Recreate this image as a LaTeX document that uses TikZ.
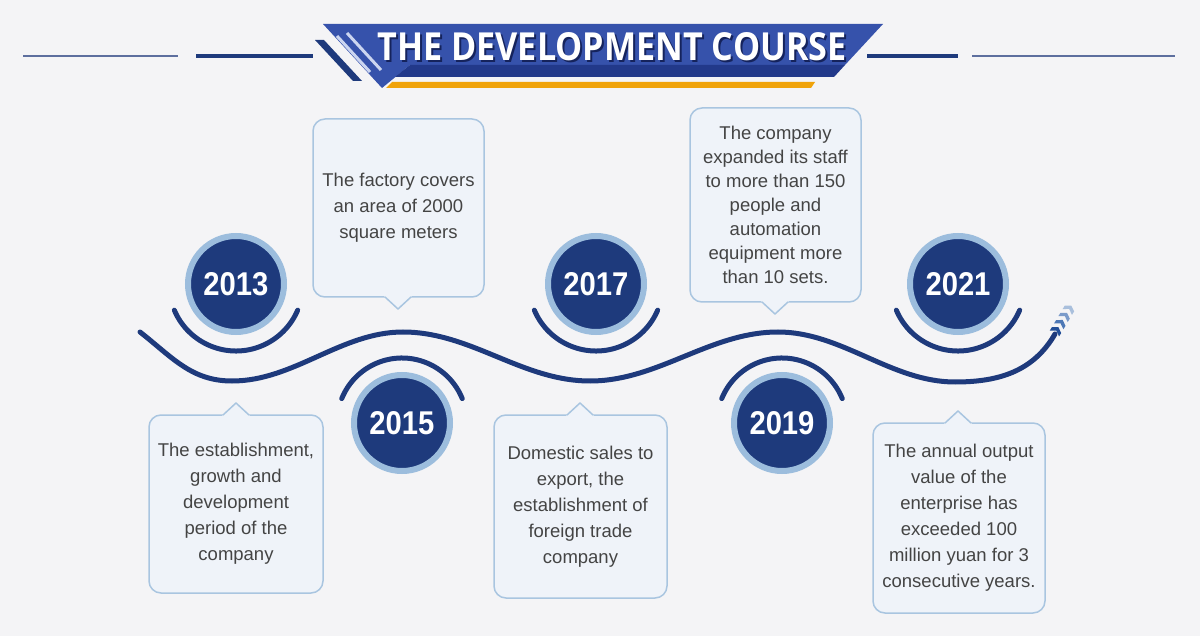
\documentclass[tikz,border=0pt]{standalone}
\usepackage{fontspec}
\usepackage{graphicx}
\setmainfont{Liberation Sans}
\newfontfamily\titlefont{Open Sans}
\definecolor{bg}{HTML}{F4F4F6}
\definecolor{navy}{HTML}{1E3A7C}
\definecolor{ringblue}{HTML}{9CBDDD}
\definecolor{boxfill}{HTML}{EFF3F9}
\definecolor{boxborder}{HTML}{A9C5E0}
\definecolor{txt}{HTML}{444444}
\definecolor{bannertop}{HTML}{3652AB}
\definecolor{bannerband}{HTML}{22398A}
\definecolor{orangebar}{HTML}{F0A30A}
\definecolor{thinline}{HTML}{5D6F9E}
\definecolor{titleshadow}{HTML}{15235C}
\definecolor{stripelight}{HTML}{CBD5F0}
\definecolor{chevA}{HTML}{234F98}
\definecolor{chevB}{HTML}{4D78B6}
\definecolor{chevC}{HTML}{7B9BCA}
\definecolor{chevD}{HTML}{A9BFDC}
\tikzset{
  wave/.style={draw=navy, line width=5pt, line cap=round},
  yearcirc/.style={circle, fill=navy, draw=ringblue, line width=6pt, minimum size=96pt, inner sep=0pt, text=white},
  callout/.style={draw=boxborder, fill=boxfill, line width=1.5pt, rounded corners=12pt, inner sep=0pt, align=center, text=txt, font=\fontsize{18.5}{26}\selectfont},
  pointer/.style={draw=boxborder, line width=1.5pt, line join=round},
  chevron/.style={fill=#1, draw=none},
}
\newcommand{\yr}[1]{\resizebox{65pt}{23pt}{\bfseries #1}}
\begin{document}
\begin{tikzpicture}[x=1pt,y=-1pt]
\useasboundingbox (0,0) rectangle (1200,636);
\fill[bg] (0,0) rectangle (1200,636);

% header lines
\coordinate (hl1a) at (23,56); \coordinate (hl1b) at (178,56);
\coordinate (hl2a) at (196,56); \coordinate (hl2b) at (313,56);
\coordinate (hr2a) at (867,56); \coordinate (hr2b) at (958,56);
\coordinate (hr1a) at (972,56); \coordinate (hr1b) at (1175,56);
\draw[thinline, line width=1.2pt] (hl1a) -- (hl1b);
\draw[navy, line width=3.5pt] (hl2a) -- (hl2b);
\draw[navy, line width=3.5pt] (hr2a) -- (hr2b);
\draw[thinline, line width=1.2pt] (hr1a) -- (hr1b);

% banner
\fill[bannertop] (323,24) -- (883,24) -- (845,65) -- (410,65) -- (382,88) -- cycle;
\fill[bannerband] (410,65) -- (845,65) -- (834,77) -- (395,77) -- cycle;
\fill[orangebar] (392,82) -- (815,82) -- (811,88) -- (386,88) -- cycle;
\fill[navy] (315,40) -- (324,40) -- (362,81) -- (353,81) -- cycle;
\draw[stripelight, line width=3pt] (337,36) -- (370,72);
\draw[stripelight, line width=3pt] (347,33) -- (381,70);
\node[text=titleshadow, inner sep=0pt] (titlesh) at (614,48.5) {\resizebox{469pt}{28pt}{\titlefont\bfseries THE DEVELOPMENT COURSE}};
\node[text=white, inner sep=0pt] (title) at (612,46.5) {\resizebox{469pt}{28pt}{\titlefont\bfseries THE DEVELOPMENT COURSE}};

% wave
\coordinate (w0) at (140,332);
\coordinate (w1) at (232,381);
\coordinate (w2) at (403,332);
\coordinate (w3) at (590,381);
\coordinate (w4) at (778,332);
\coordinate (w5) at (955,382);
\coordinate (w6) at (1055,334);
\draw[wave] (w0) to[out=-38,in=180] (w1)
  .. controls +(62,0) and +(-62,0) .. (w2)
  .. controls +(68,0) and +(-68,0) .. (w3)
  .. controls +(68,0) and +(-68,0) .. (w4)
  .. controls +(64,0) and +(-64,0) .. (w5)
  to[out=0,in=-120] (w6);

% chevrons
\foreach \k/\c in {0/chevA,1/chevB,2/chevC,3/chevD}{
  \begin{scope}[shift={(1056+4.3*\k,331-7.2*\k)}, rotate=58]
    \fill[chevron=\c] (-3,-5.5) -- (1,-5.5) -- (4.5,0) -- (1,5.5) -- (-3,5.5) -- (0.5,0) -- cycle;
  \end{scope}
}

% circles
\node[yearcirc] (c13) at (236,284) {\yr{2013}};
\node[yearcirc] (c15) at (402,423) {\yr{2015}};
\node[yearcirc] (c17) at (596,284) {\yr{2017}};
\node[yearcirc] (c19) at (782,423) {\yr{2019}};
\node[yearcirc] (c21) at (958,284) {\yr{2021}};

% arcs
\draw[wave] (c13.center) ++(157:67) arc[start angle=157, end angle=23, radius=67];
\draw[wave] (c17.center) ++(157:67) arc[start angle=157, end angle=23, radius=67];
\draw[wave] (c21.center) ++(157:67) arc[start angle=157, end angle=23, radius=67];
\draw[wave] (c15.center) ++(202:65) arc[start angle=202, end angle=338, radius=65];
\draw[wave] (c19.center) ++(202:65) arc[start angle=202, end angle=338, radius=65];

% callouts
\node[callout, minimum width=174pt, minimum height=178pt] (b13) at (236,504)
  {The establishment,\\growth and\\development\\period of the\\company};
\node[callout, minimum width=171pt, minimum height=178pt] (b15) at (398.5,208)
  {The factory covers\\an area of 2000\\square meters};
\node[callout, minimum width=173pt, minimum height=183pt] (b17) at (580.5,506.5)
  {Domestic sales to\\export, the\\establishment of\\foreign trade\\company};
\node[callout, minimum width=171pt, minimum height=194pt, font=\fontsize{18.5}{24}\selectfont] (b19) at (775.5,205)
  {The company\\expanded its staff\\to more than 150\\people and\\automation\\equipment more\\than 10 sets.};
\node[callout, minimum width=172pt, minimum height=190pt] (b21) at (959,518)
  {The annual output\\value of the\\enterprise has\\exceeded 100\\million yuan for 3\\consecutive years.};

% pointers
\coordinate (t13) at (236,403);
\coordinate (t15) at (398,309);
\coordinate (t17) at (580,403);
\coordinate (t19) at (775,314);
\coordinate (t21) at (958,411);
\foreach \t in {t13,t17,t21}{
  \fill[boxfill] (\t) -- ++(-13.8,12.8) -- ++(27.6,0) -- cycle;
  \draw[pointer] (\t) ++(-13,12) -- (\t) -- ++(13,12);
}
\foreach \t in {t15,t19}{
  \fill[boxfill] (\t) -- ++(-13.8,-12.8) -- ++(27.6,0) -- cycle;
  \draw[pointer] (\t) ++(-13,-12) -- (\t) -- ++(13,-12);
}
\end{tikzpicture}
\end{document}
